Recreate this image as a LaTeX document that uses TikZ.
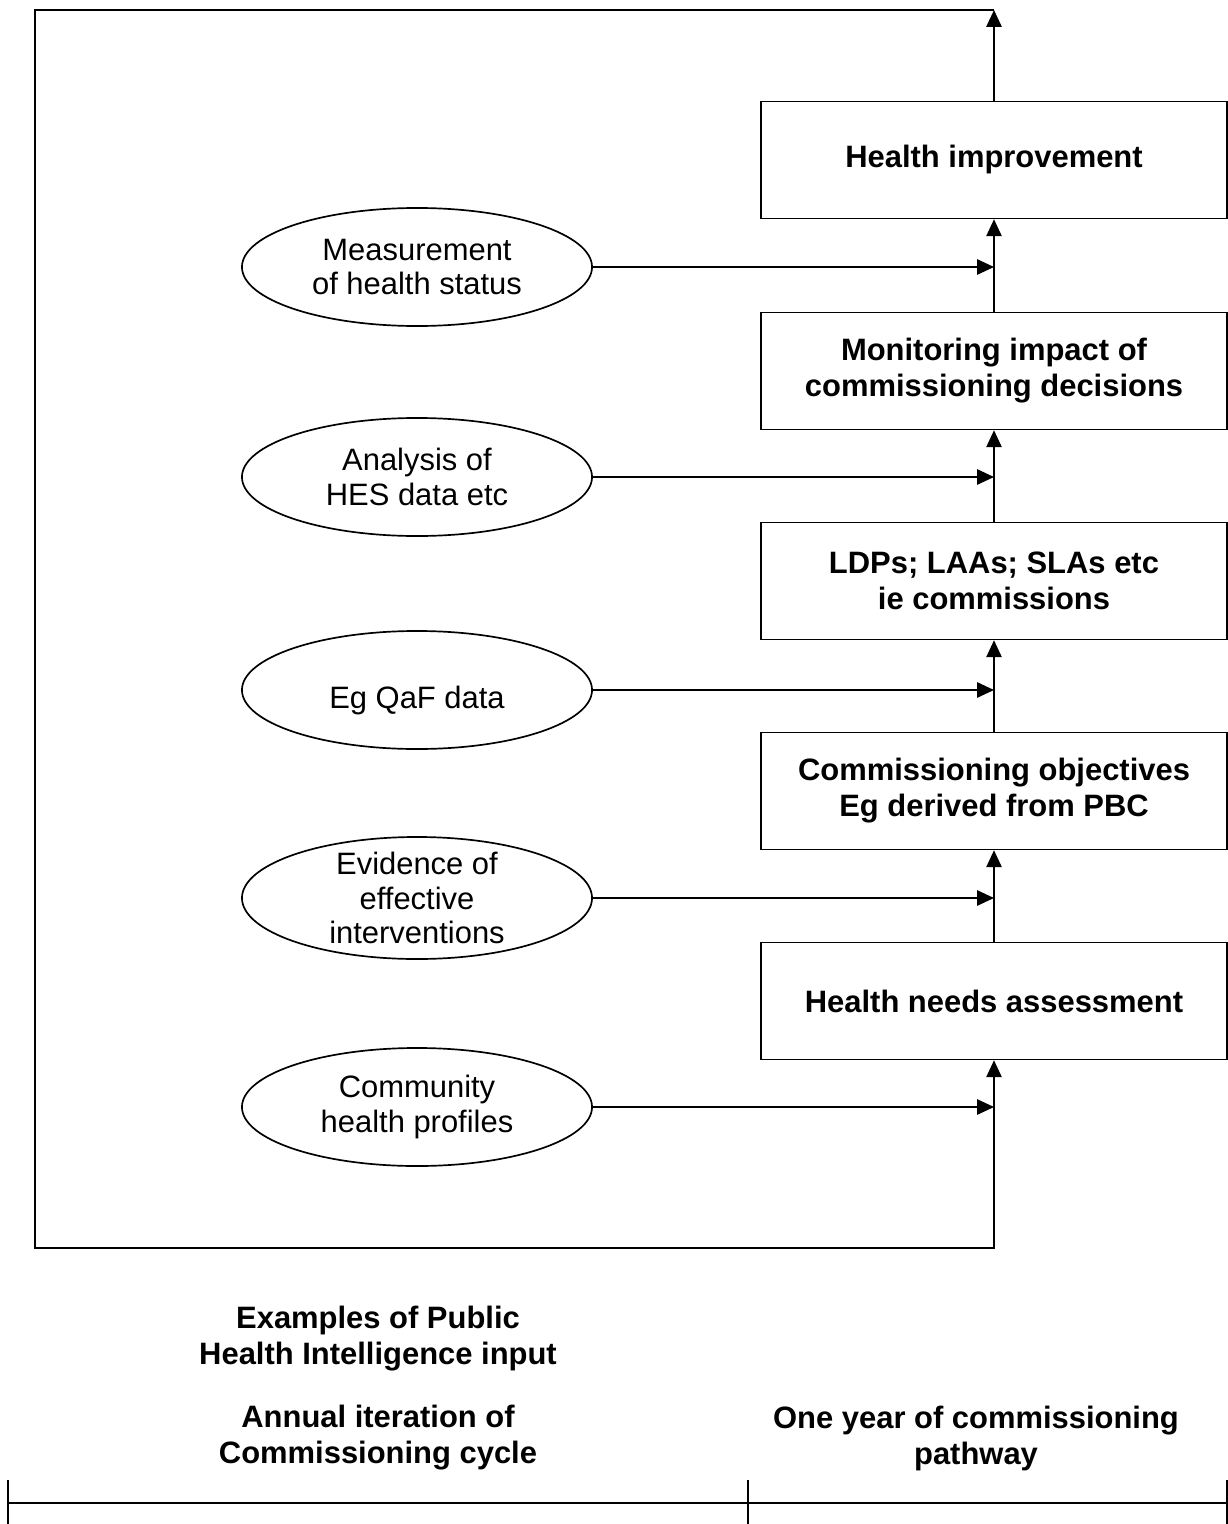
\documentclass[tikz,border=0pt]{standalone}
\usepackage{fontspec}
\setmainfont{Liberation Sans}
\usepackage{tikz}
\usetikzlibrary{
    arrows.meta,
    shapes.geometric,
    positioning,
    calc
}
\tikzstyle{arrow} = [
    -{Triangle[length=0.42cm, width=0.38cm]},
    line width=1.2pt,
    draw=black
]
\tikzstyle{stage} = [
    rectangle,
    draw=black,
    line width=1.2pt,
    minimum width=11.65cm,
    minimum height=2.92cm,
    align=center,
    font=\bfseries\fontsize{22}{25.6}\selectfont
]
\tikzstyle{source} = [
    ellipse,
    draw=black,
    line width=1.2pt,
    minimum width=8.75cm,
    minimum height=2.95cm,
    inner sep=0pt
]
\tikzstyle{srctext} = [
    align=center,
    font=\fontsize{22}{24.5}\selectfont
]
\tikzstyle{caption} = [
    align=center,
    font=\bfseries\fontsize{22}{25.6}\selectfont
]

\begin{document}
\begin{tikzpicture}[x=0.025cm, y=-0.025cm]
        \useasboundingbox (0,0) rectangle (1228,1524);

        % Commissioning pathway (boxes)
        \node[stage] (hi) at (994,160) {Health improvement};
        \node[stage] (mon) at (994,371) {Monitoring impact of\\commissioning decisions};
        \node[stage] (ldp) at (994,581) {LDPs; LAAs; SLAs etc\\ie commissions};
        \node[stage] (obj) at (994,791) {Commissioning objectives\\Eg derived from PBC};
        \node[stage] (hna) at (994,1001) {Health needs assessment};

        % Public health intelligence input (ellipses)
        \node[source, label={[srctext]center:{Measurement\\of health status}}] (meas) at (417,267) {};
        \node[source, label={[srctext]center:{Analysis of\\HES data etc}}] (hes) at (417,477) {};
        \node[source, label={[srctext, yshift=-0.25cm]center:{Eg QaF data}}] (qaf) at (417,690) {};
        \node[source, minimum height=3.05cm, label={[srctext]center:{Evidence of\\effective\\interventions}}] (evid) at (417,898) {};
        \node[source, label={[srctext]center:{Community\\health profiles}}] (prof) at (417,1107) {};

        % Loop corners
        \coordinate (topR) at (994,10);
        \coordinate (topL) at (35,10);
        \coordinate (botL) at (35,1248);
        \coordinate (botR) at (994,1248);

        % Pathway arrows
        \draw[arrow] (hna.north) -- (obj.south);
        \draw[arrow] (obj.north) -- (ldp.south);
        \draw[arrow] (ldp.north) -- (mon.south);
        \draw[arrow] (mon.north) -- (hi.south);

        % Annual iteration loop
        \draw[arrow] (hi.north) -- (topR);
        \draw[arrow] (topR) -- (topL) -- (botL) -- (botR) -- (hna.south);

        % Inputs into the pathway
        \foreach \src in {meas,hes,qaf,evid,prof} {
            \draw[arrow] (\src.east) -- (\src.east -| hi.south);
        }

        % Captions
        \node[caption] (capin) at (378,1339) {Examples of Public\\Health Intelligence input};
        \node[caption] (capcyc) at (378,1438) {Annual iteration of\\Commissioning cycle};
        \node[caption] (cappath) at (976,1438) {One year of commissioning\\pathway};

        % Time line
        \coordinate (tl0) at (8,1503);
        \coordinate (tl1) at (748,1503);
        \coordinate (tl2) at (1227,1503);
        \draw[line width=1.2pt] (tl0) -- (tl2);
        \foreach \t in {tl0,tl1,tl2} {
            \draw[line width=1.2pt] ($(\t)+(0,-23)$) -- ($(\t)+(0,21)$);
        }
    \end{tikzpicture}
\end{document}
